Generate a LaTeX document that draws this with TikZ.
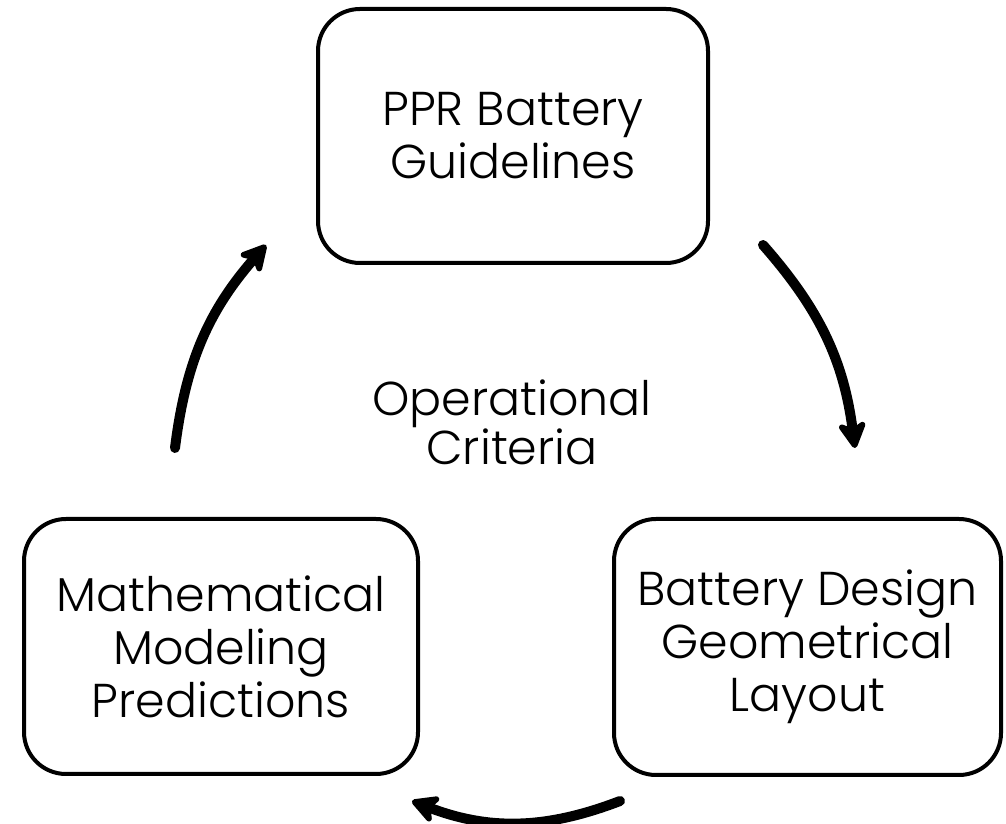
\documentclass[tikz,border=0pt]{standalone}
\usepackage{fontspec}
\setmainfont{Poppins Light}
\usetikzlibrary{arrows.meta}
\tikzset{
  stagebox/.style={draw, line width=4pt, rounded corners=42pt, align=center,
    font=\fontsize{47.5}{53}\selectfont, inner sep=0pt},
  cycarrow/.style={line width=10pt, line cap=round,
    -{Stealth[length=32pt,width=34pt,inset=9pt,round=false]}},
}
\begin{document}
\begin{tikzpicture}[x=1pt,y=1pt]
  \useasboundingbox (0,0) rectangle (1006,824);
  % three stages of the design cycle
  \node[stagebox, minimum width=390pt, minimum height=254pt] (ppr) at (513,688)
    {PPR Battery\\Guidelines};
  \node[stagebox, minimum width=394pt, minimum height=255pt] (math) at (221,177.5)
    {Mathematical\\Modeling\\Predictions};
  \node[stagebox, minimum width=387pt, minimum height=256pt] (design) at (807.5,177)
    {Battery Design\\Geometrical\\Layout};
  % centre label
  \node[align=center, font=\fontsize{47.5}{49}\selectfont] (crit) at (512,402)
    {Operational\\Criteria};
  % arrow end points
  \coordinate (a1) at (763,579);
  \coordinate (b1) at (855,376);
  \coordinate (a2) at (620,23);
  \coordinate (b2) at (412,23);
  \coordinate (a3) at (175,376);
  \coordinate (b3) at (266,579);
  \draw[cycarrow] (a1) to[bend left=17] (b1);
  \draw[cycarrow] (a2) to[bend left=21] (b2);
  \draw[cycarrow] (a3) to[bend left=17] (b3);
\end{tikzpicture}
\end{document}
